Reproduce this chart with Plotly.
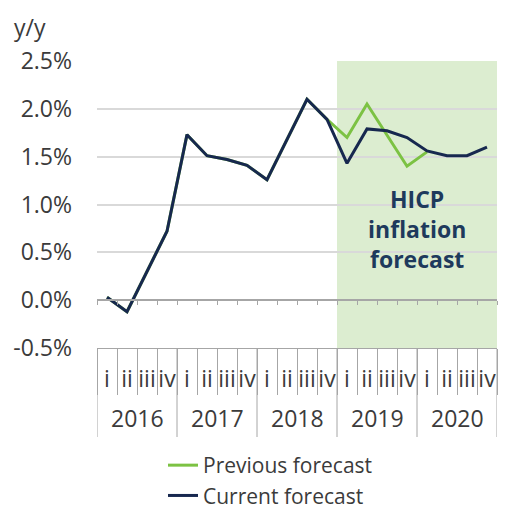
import plotly.graph_objects as go

years = ["2016"] * 4 + ["2017"] * 4 + ["2018"] * 4 + ["2019"] * 4 + ["2020"] * 4
quarters = ["i", "ii", "iii", "iv"] * 5
current = [0.03, -0.12, 0.30, 0.72, 1.73, 1.51, 1.47, 1.41, 1.26, 1.68, 2.10, 1.89,
           1.43, 1.79, 1.77, 1.70, 1.56, 1.51, 1.51, 1.60]
previous = [0.03, -0.12, 0.30, 0.72, 1.73, 1.51, 1.47, 1.41, 1.26, 1.68, 2.10, 1.89,
            1.70, 2.05, 1.72, 1.40, 1.55, None, None, None]
y_ticks = [-0.5, 0.0, 0.5, 1.0, 1.5, 2.0, 2.5]
y_ticktext = ["-0.5%", "0.0%", "0.5%", "1.0%", "1.5%", "2.0%", "2.5%"]
forecast_start = "2019"

FONT = "Open Sans"
FS = 23
TXT = "#3b3b3b"
GRID = "#d9d9d9"
AX = "#a6a6a6"
NAVY = "#17284f"
GREEN = "#7cc243"
SHADE = "#dcedd0"

n = len(years)
idx = list(range(n))
first_fc = years.index(forecast_start)
ymin, ymax = y_ticks[0], y_ticks[-1]
year_names = list(dict.fromkeys(years))
year_first = [years.index(y) for y in year_names]
year_last = [n - 1 - years[::-1].index(y) for y in year_names]
boundaries = [i - 0.5 for i in range(n + 1)]

H = 509
W = 510
left, right = 97, 497
top, bottom = 61, 348
pw, ph = right - left, bottom - top


def px_x(p):
    return (p - left) / pw


def px_y(p):
    return (bottom - p) / ph


fig = go.Figure()
fig.add_trace(go.Scatter(x=idx, y=previous, mode="lines",
                         name="Previous forecast", line=dict(color=GREEN, width=3),
                         legendgroup="a", hoverinfo="skip"))
fig.add_trace(go.Scatter(x=idx, y=current, mode="lines",
                         name="Current forecast", line=dict(color=NAVY, width=3),
                         legendgroup="b", hoverinfo="skip"))
# helper traces for the zero axis and the quarter separators
fig.add_trace(go.Scatter(x=idx, y=[None] * n, xaxis="x2", yaxis="y",
                         showlegend=False, hoverinfo="skip", mode="lines"))
fig.add_trace(go.Scatter(x=idx, y=[None] * n, xaxis="x3", yaxis="y",
                         showlegend=False, hoverinfo="skip", mode="lines"))

fig.add_shape(type="rect", xref="x2", yref="y", x0=first_fc - 0.5, x1=n - 0.5,
              y0=ymin, y1=ymax, fillcolor=SHADE, line_width=0, layer="below")

# year dividers and labels
for yn, f, l in zip(year_names, year_first, year_last):
    fig.add_shape(type="line", xref="x", yref="paper", x0=f - 0.5, x1=f - 0.5,
                  y0=0, y1=px_y(437), line=dict(color=AX, width=1))
    fig.add_annotation(x=(f + l) / 2, y=px_y(418), xref="x", yref="paper",
                       text=yn, showarrow=False, yanchor="middle",
                       font=dict(family=FONT, size=FS, color=TXT))
fig.add_shape(type="line", xref="x", yref="paper", x0=n - 0.5, x1=n - 0.5,
              y0=0, y1=px_y(437), line=dict(color=AX, width=1))

fig.add_annotation(x=(first_fc - 0.5 + n - 0.5) / 2, y=0.74, xref="x2", yref="y",
                   text="<b>HICP<br>inflation<br>forecast</b>", showarrow=False,
                   font=dict(family=FONT, size=23, color="#1e3a5c"), align="center")
fig.add_annotation(x=px_x(12), y=px_y(27), xref="paper", yref="paper", text="y/y",
                   showarrow=False, xanchor="left", yanchor="middle",
                   font=dict(family=FONT, size=FS, color=TXT))

fig.update_layout(
    width=W, height=H,
    margin=dict(l=left, r=W - right, t=top, b=H - bottom, autoexpand=False),
    plot_bgcolor="white", paper_bgcolor="white",
    font=dict(family=FONT, size=FS, color=TXT),
    xaxis=dict(range=[-0.5, n - 0.5], showgrid=False, zeroline=False,
               showline=True, linecolor=AX, linewidth=1, automargin=False,
               tickvals=idx, ticktext=quarters, ticks="", tickangle=0,
               ticklabelstandoff=10,
               tickfont=dict(family=FONT, size=FS, color=TXT)),
    xaxis2=dict(overlaying="x", anchor="free", position=(0 - ymin) / (ymax - ymin),
                range=[-0.5, n - 0.5], showgrid=False, zeroline=False,
                showline=True, linecolor=AX, linewidth=2, automargin=False,
                ticks="outside", tickvals=boundaries,
                ticklen=4, tickcolor=AX, showticklabels=False),
    xaxis3=dict(overlaying="x", anchor="y", side="bottom",
                range=[-0.5, n - 0.5], showgrid=False, zeroline=False,
                showline=False, automargin=False,
                ticks="outside", tickvals=boundaries, ticklen=46, tickwidth=1,
                tickcolor=AX, showticklabels=False),
    yaxis=dict(range=[ymin, ymax], tickvals=y_ticks, ticktext=y_ticktext,
               showgrid=True, gridcolor=GRID, gridwidth=2, zeroline=False,
               ticks="", ticklabelstandoff=24, automargin=False,
               tickfont=dict(family=FONT, size=FS, color=TXT)),
    legend=dict(orientation="v", x=px_x(163), xanchor="left",
                y=px_y(445), yanchor="top",
                font=dict(family=FONT, size=21, color=TXT),
                tracegroupgap=0, bgcolor="rgba(0,0,0,0)"),
    showlegend=True,
)
fig.write_html("out.html", post_script="document.body.style.margin='0';",
               config={"displayModeBar": False})
